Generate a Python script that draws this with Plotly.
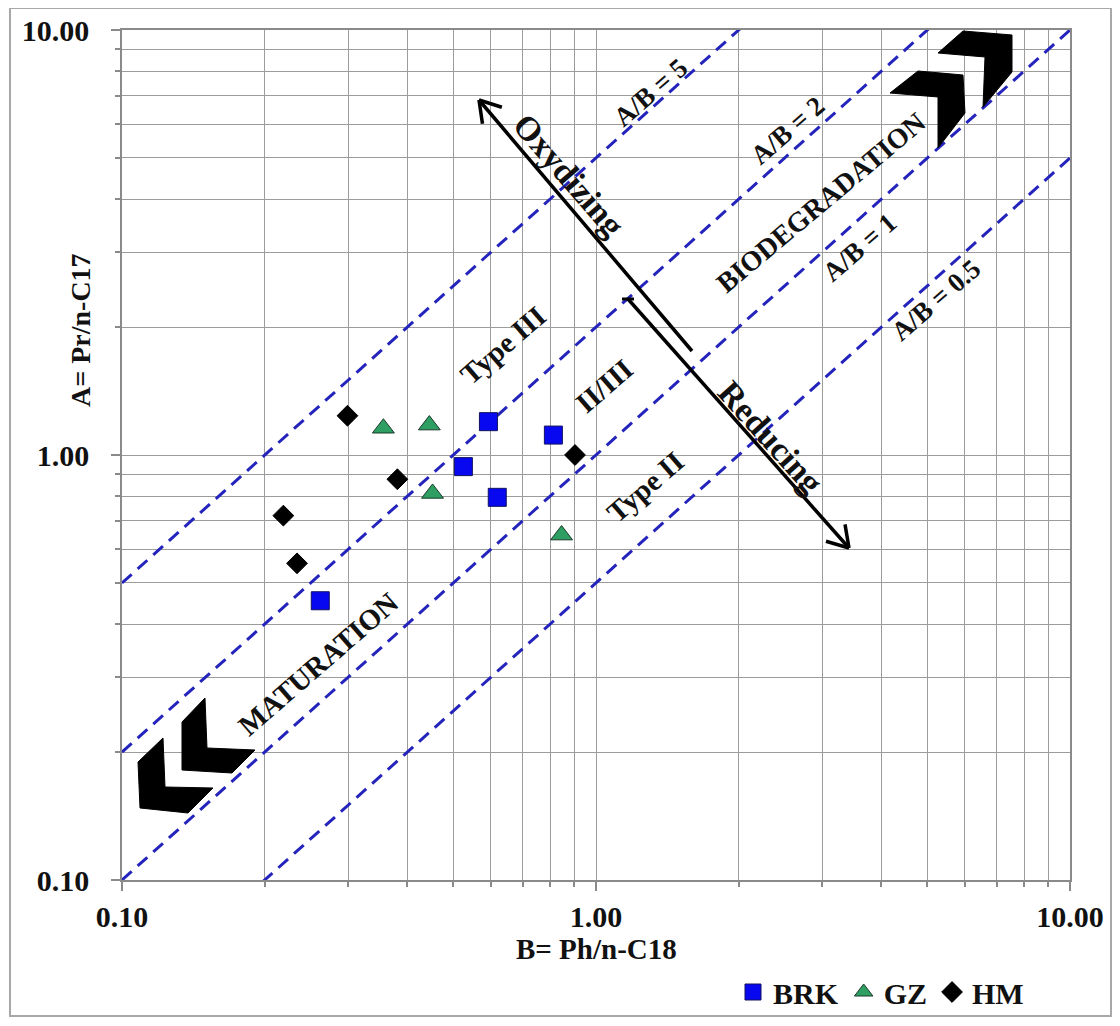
import math
import plotly.graph_objects as go

# ---------------- data ----------------
brk_x = [0.593, 0.813, 0.525, 0.619, 0.262]
brk_y = [1.198, 1.114, 0.939, 0.795, 0.454]
gz_x = [0.356, 0.445, 0.452, 0.846]
gz_y = [1.156, 1.176, 0.812, 0.648]
hm_x = [0.299, 0.381, 0.903, 0.219, 0.234]
hm_y = [1.237, 0.877, 1.000, 0.720, 0.556]
ratios = [5, 2, 1, 0.5]
ratio_labels = ["A/B = 5", "A/B = 2", "A/B = 1", "A/B = 0.5"]
tick_vals = [0.1, 1, 10]
tick_text = ["0.10", "1.00", "10.00"]

FONT = "Liberation Serif"
OFF = 8                       # default body margin of the html page
W, H = 1120 - 2 * OFF, 1026 - 2 * OFF
L, R, T, B = 122, 1070, 30, 880  # plot area in screen pixels


def pp(x, y):
    """screen pixel -> paper coordinates"""
    return (x - L) / (R - L), (B - y) / (B - T)


fig = go.Figure()

# ratio lines
xs_line = [0.1, 10]
for k in ratios:
    fig.add_trace(go.Scatter(
        x=xs_line, y=[k * v for v in xs_line], mode="lines",
        line=dict(color="#2424bd", width=3, dash="13px,8px"),
        showlegend=False, hoverinfo="skip"))

fig.add_trace(go.Scatter(
    x=brk_x, y=brk_y, mode="markers", name="BRK",
    marker=dict(symbol="square", size=18, color="#0808f0",
                line=dict(color="#101060", width=1))))
fig.add_trace(go.Scatter(
    x=gz_x, y=gz_y, mode="markers", name="GZ",
    marker=dict(symbol="triangle-up", size=19, color="#2e9e62",
                line=dict(color="#1a3a2a", width=1))))
fig.add_trace(go.Scatter(
    x=hm_x, y=hm_y, mode="markers", name="HM",
    marker=dict(symbol="diamond", size=16, color="#000000",
                line=dict(color="#000000", width=1))))

annotations = []
labels = [
    ("A/B = 5", 650, 93, -41, 27),
    ("A/B = 2", 787, 131, -41, 27),
    ("A/B = 1", 859, 248, -41, 27),
    ("A/B = 0.5", 936, 300, -41, 27),
    ("BIODEGRADATION", 821, 203, -40, 28),
    ("MATURATION", 318, 664, -41, 29),
    ("Type III", 503, 345, -41, 29),
    ("II/III", 604, 386, -41, 29),
    ("Type II", 645, 487, -41, 29),
    ("Oxydizing", 568, 175, 49, 34),
    ("Reducing", 771, 437, 48, 34),
]
for txt, x, y, ang, sz in labels:
    px_, py_ = pp(x, y)
    annotations.append(dict(x=px_, y=py_, xref="paper", yref="paper",
                            text=txt, showarrow=False, textangle=ang,
                            font=dict(family=FONT, size=sz, color="#111111", weight="bold"),
                            xanchor="center", yanchor="middle"))

# axis titles
xt = pp(596, 949)
annotations.append(dict(x=xt[0], y=xt[1], xref="paper", yref="paper",
                        text="B= Ph/n-C18", showarrow=False,
                        xanchor="center", yanchor="middle",
                        font=dict(family=FONT, size=29, color="#111111", weight="bold")))
yt = pp(80, 330)
annotations.append(dict(x=yt[0], y=yt[1], xref="paper", yref="paper",
                        text="A= Pr/n-C17", showarrow=False, textangle=-90,
                        xanchor="center", yanchor="middle",
                        font=dict(family=FONT, size=28, color="#111111", weight="bold")))

shapes = []


def seg(x0, y0, x1, y1, w=3.5, col="black"):
    a = pp(x0, y0)
    b = pp(x1, y1)
    shapes.append(dict(type="line", xref="paper", yref="paper",
                       x0=a[0], y0=a[1], x1=b[0], y1=b[1],
                       line=dict(color=col, width=w)))


def arrow(tx, ty, hx, hy, head=24, ang=32):
    seg(tx, ty, hx, hy)
    dx, dy = tx - hx, ty - hy
    n = math.hypot(dx, dy)
    ux, uy = dx / n, dy / n
    for s in (1, -1):
        a = math.radians(ang * s)
        vx = ux * math.cos(a) - uy * math.sin(a)
        vy = ux * math.sin(a) + uy * math.cos(a)
        seg(hx, hy, hx + vx * head, hy + vy * head)


arrow(692, 351, 479, 100)
arrow(628, 299, 849, 548)
seg(622, 299, 634, 299, w=3)


def poly(pts, col="black"):
    s = ""
    for i, (x, y) in enumerate(pts):
        a = pp(x, y)
        s += ("M" if i == 0 else "L") + f"{a[0]:.5f},{a[1]:.5f} "
    s += "Z"
    shapes.append(dict(type="path", xref="paper", yref="paper", path=s,
                       fillcolor=col, line=dict(color=col, width=1)))


# chevrons bottom-left
poly([(205, 698), (182, 722), (182, 770), (232, 773), (255, 750), (207, 748)])
poly([(163, 738), (138, 762), (140, 808), (188, 813), (213, 788), (165, 787)])
# chevrons top-right
poly([(1012, 35), (963, 31), (938, 53), (985, 57), (983, 107), (1012, 72)])
poly([(963, 75), (918, 71), (890, 93), (938, 97), (938, 148), (965, 113)])

# outer border
a = pp(10, 1016)
b = pp(1111, 8)
shapes.append(dict(type="rect", xref="paper", yref="paper", x0=a[0], y0=a[1],
                   x1=b[0], y1=b[1], line=dict(color="#a8a8a8", width=2),
                   fillcolor="rgba(0,0,0,0)", layer="below"))

grid_col = "#9c9c9c"
axis_common = dict(
    type="log", range=[-1, 1], tickvals=tick_vals, ticktext=tick_text,
    showgrid=True, gridcolor=grid_col, gridwidth=1.4,
    showline=True, linecolor="#8a8a8a", linewidth=1.6, mirror=True,
    ticks="outside", ticklen=9, tickcolor="#8a8a8a", tickwidth=1.5,
    tickfont=dict(family=FONT, size=30, color="#111111", weight="bold"),
    minor=dict(dtick="D1", showgrid=True, gridcolor=grid_col, gridwidth=1.4,
               ticks="outside", ticklen=5, tickcolor="#8a8a8a"),
    zeroline=False, automargin=False,
)
fig.update_xaxes(**axis_common, ticklabelstandoff=0)
fig.update_yaxes(**axis_common, ticklabelstandoff=16)

lg = pp(733, 992)
fig.update_layout(
    width=W, height=H,
    margin=dict(l=L - OFF, r=W - (R - OFF), t=T - OFF, b=H - (B - OFF),
                autoexpand=False),
    paper_bgcolor="white", plot_bgcolor="white",
    annotations=annotations, shapes=shapes,
    legend=dict(orientation="h", x=lg[0], y=lg[1], xanchor="left", yanchor="middle",
                font=dict(family=FONT, size=30, color="#111111", weight="bold"),
                itemwidth=30, tracegroupgap=0, bgcolor="rgba(0,0,0,0)"),
    showlegend=True,
)

fig.write_html("out.html")
